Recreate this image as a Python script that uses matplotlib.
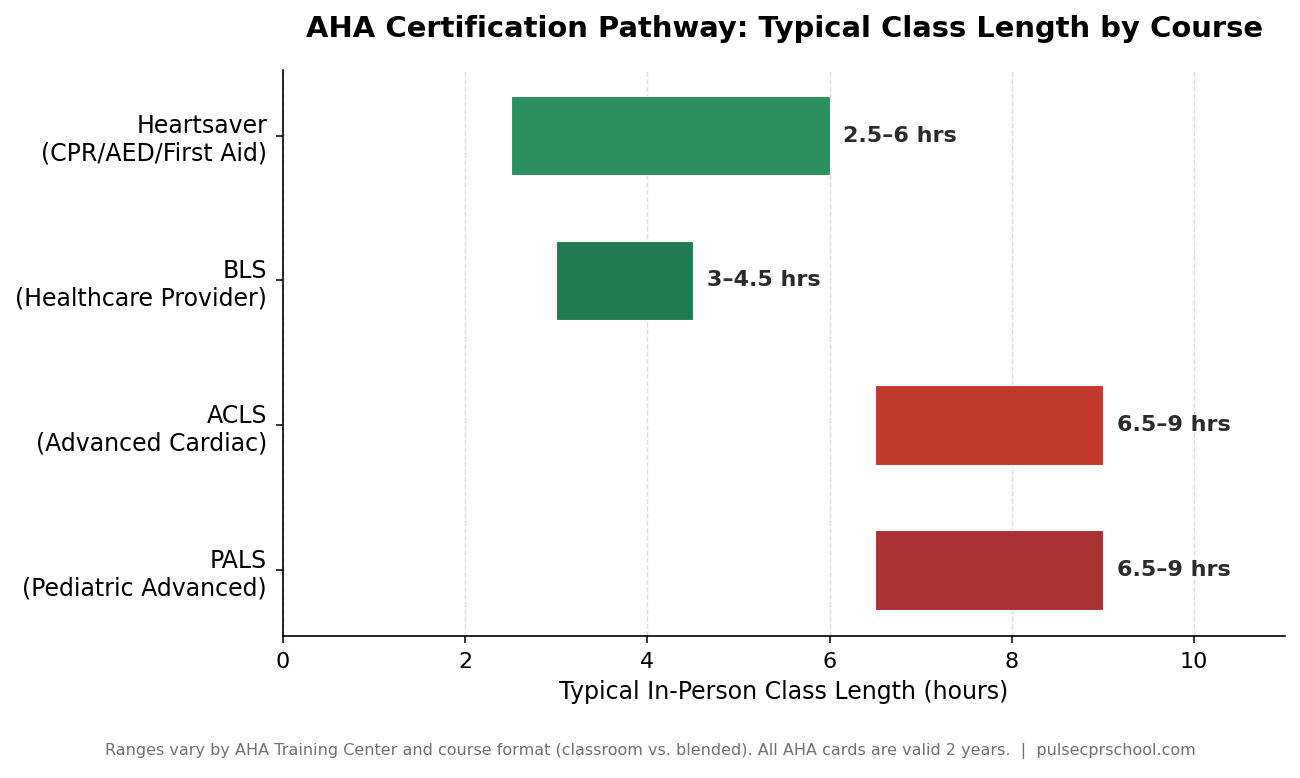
import matplotlib
matplotlib.use("Agg")
import matplotlib.pyplot as plt

courses = ["Heartsaver\n(CPR/AED/First Aid)", "BLS\n(Healthcare Provider)",
           "ACLS\n(Advanced Cardiac)", "PALS\n(Pediatric Advanced)"]
start_hrs = [2.5, 3.0, 6.5, 6.5]
end_hrs = [6.0, 4.5, 9.0, 9.0]
labels = ["2.5–6 hrs", "3–4.5 hrs", "6.5–9 hrs", "6.5–9 hrs"]
colors = ["#2e8f5f", "#1f7a4f", "#c0392b", "#a93232"]

fig, ax = plt.subplots(figsize=(13, 7.78), dpi=100)
fig.subplots_adjust(left=0.2177, right=0.9885, top=0.91, bottom=0.183)

y = list(range(len(courses)))
widths = [e - s for s, e in zip(start_hrs, end_hrs)]
ax.barh(y, widths, left=start_hrs, height=0.55, color=colors,
        edgecolor="white", linewidth=0.8, zorder=3)

for yi, e, lab in zip(y, end_hrs, labels):
    ax.text(e + 0.15, yi, lab, va="center", ha="left", fontsize=16,
            fontweight="bold", color="#2b2b2b")

ax.set_yticks(y)
ax.set_yticklabels(courses, fontsize=17)
ax.invert_yaxis()
ax.set_xlim(0, 11)
ax.set_xticks([0, 2, 4, 6, 8, 10])
ax.tick_params(axis="x", labelsize=16, length=5, width=1.1, pad=6.5)
ax.tick_params(axis="y", length=5, width=1.1, pad=6.5)
ax.set_xlabel("Typical In-Person Class Length (hours)", fontsize=17, labelpad=6)
ax.set_title("AHA Certification Pathway: Typical Class Length by Course",
             fontsize=20.9, fontweight="bold", pad=24)

ax.grid(axis="x", linestyle="--", color="#dddddd", linewidth=1.0, zorder=0)
ax.spines["top"].set_visible(False)
ax.spines["right"].set_visible(False)
ax.spines["left"].set_linewidth(1.2)
ax.spines["bottom"].set_linewidth(1.2)

fig.text(0.5, 0.03, "Ranges vary by AHA Training Center and course format (classroom vs. blended). "
         "All AHA cards are valid 2 years.  |  pulsecprschool.com",
         ha="center", fontsize=11.5, color="#707070")

fig.savefig("out.png", dpi=100)
